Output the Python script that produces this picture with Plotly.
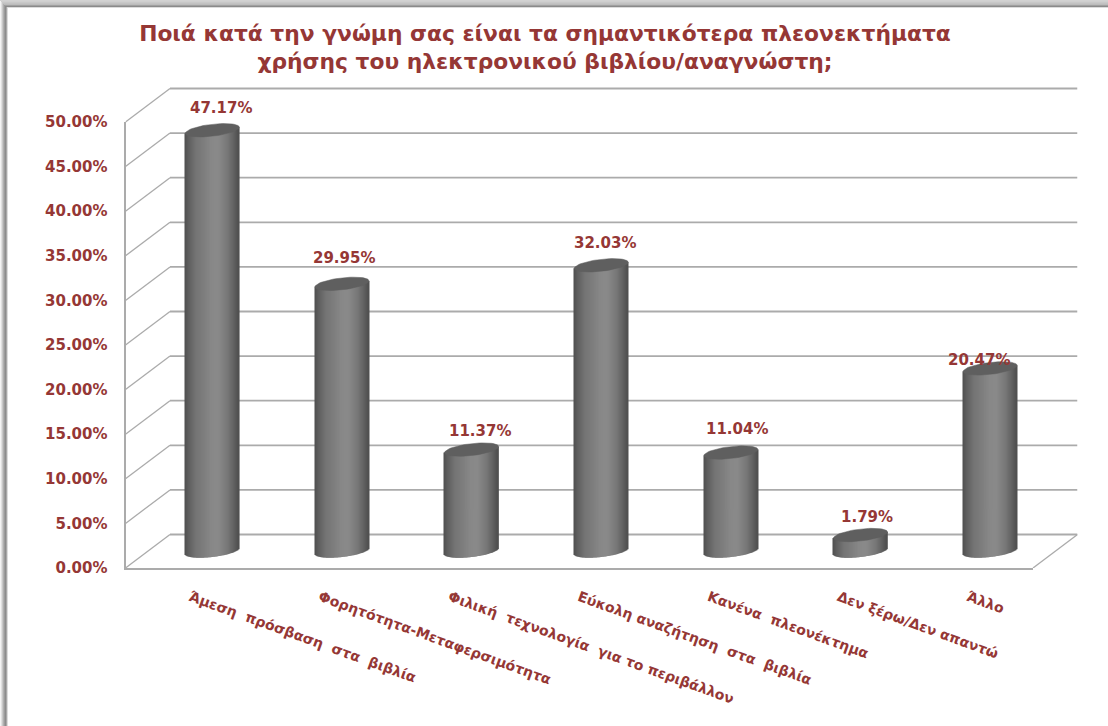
import numpy as np
import plotly.graph_objects as go

TITLE = "Ποιά κατά την γνώμη σας είναι τα σημαντικότερα πλεονεκτήματα<br>χρήσης του ηλεκτρονικού βιβλίου/αναγνώστη;"
categories = ["Άμεση  πρόσβαση  στα  βιβλία", "Φορητότητα-Μεταφερσιμότητα",
              "Φιλική  τεχνολογία  για το περιβάλλον", "Εύκολη αναζήτηση  στα  βιβλία",
              "Κανένα  πλεονέκτημα", "Δεν ξέρω/Δεν απαντώ", "Άλλο"]
values = [47.17, 29.95, 11.37, 32.03, 11.04, 1.79, 20.47]
y_ticks = [0, 5, 10, 15, 20, 25, 30, 35, 40, 45, 50]

label_dx = [9, 2, 8, 4, 6, 6, -11]
label_dy = [22, 26, 19, 22, 24, 18, 8]

W, H = 1108, 726
RED = "#953735"
GRID = "#ababab"
FONT = "DejaVu Sans"


def fx(p):
    return p / W


def fy(p):
    return 1 - p / H


CAT_PX = (1033 - 125.5) / 7
UNIT_PX = (568 - 122) / 50
n = len(values)
xs = list(range(n))
xrange_ = [-0.5, n - 0.5]

half_w = 27.0
cap_b = 6.0
cap_tilt = 3.0

# gradient strips across the cylinder
stops_t = [0, 0.06, 0.2, 0.5, 0.62, 0.8, 0.94, 1]
stops_c = [78, 92, 116, 136, 138, 120, 92, 78]

sx, sbase, sy, scol = [], [], [], []
for i, v in enumerate(values):
    for d in np.arange(-half_w + 0.5, half_w, 1.0):
        u = d / half_w
        low = (cap_tilt * u - cap_b * np.sqrt(max(0, 1 - u * u))) / UNIT_PX
        top = cap_tilt * u / UNIT_PX + v
        sx.append(i + d / CAT_PX)
        sbase.append(low)
        sy.append(top - low)
        g = int(np.interp((u + 1) / 2, stops_t, stops_c))
        scol.append(f"rgb({g},{g},{g})")

capx, capy = [], []
ts = np.linspace(0, 2 * np.pi, 60)
for i, v in enumerate(values):
    capx += list(i + half_w * np.cos(ts) / CAT_PX) + [None]
    capy += list(v + (cap_tilt * np.cos(ts) + cap_b * np.sin(ts)) / UNIT_PX) + [None]

# Back wall plane: gridlines plus the diagonals that join it to the front plane
DEPTH_X_PX, DEPTH_Y_PX = 44.5, 33.5
DX, DY = DEPTH_X_PX / CAT_PX, DEPTH_Y_PX / UNIT_PX
gx, gy, wx, wy = [], [], [], []
for t in y_ticks:
    gx += [-0.5, n - 0.5, None]
    gy += [t, t, None]
    wx += [-0.5 - DX, -0.5, None]
    wy += [t - DY, t, None]
wx += [n - 0.5 - DX, n - 0.5]
wy += [-DY, 0]

fig = go.Figure()
fig.add_trace(go.Scatter(x=xs, y=values, xaxis="x", yaxis="y", mode="markers",
                         marker=dict(opacity=0, size=1), hoverinfo="skip", name="axes"))
fig.add_trace(go.Scatter(x=gx, y=gy, xaxis="x2", yaxis="y2", mode="lines",
                         line=dict(color=GRID, width=1.8), hoverinfo="skip"))
fig.add_trace(go.Scatter(x=wx, y=wy, xaxis="x2", yaxis="y2", mode="lines",
                         line=dict(color=GRID, width=1.3), hoverinfo="skip"))
fig.add_trace(go.Bar(x=xs, y=values, xaxis="x3", yaxis="y3", width=28 / CAT_PX,
                     marker=dict(color="rgb(120,120,120)", line=dict(width=0)), name="values"))
fig.add_trace(go.Bar(x=sx, y=sy, base=sbase, xaxis="x3", yaxis="y3", width=1.5 / CAT_PX,
                     marker=dict(color=scol, line=dict(width=0)), hoverinfo="skip"))
fig.add_trace(go.Scatter(x=capx, y=capy, xaxis="x3", yaxis="y3", mode="lines", fill="toself",
                         fillcolor="#5f5f5f", line=dict(color="#5f5f5f", width=0.5), hoverinfo="skip"))

ann = [dict(x=i, y=v, xref="x3", yref="y3", text=f"{v:.2f}%", showarrow=False,
            xshift=label_dx[i], yshift=label_dy[i],
            font=dict(family=FONT, size=15, color=RED, weight=700))
       for i, v in enumerate(values)]

# window frame shadow
shapes = []
for k, c in enumerate(["#d2d2d2", "#cfcfcf", "#c8c8c8", "#c2c2c2", "#bcbcbc", "#a0a0a0", "#8a8a8a", "#dcdcdc"]):
    shapes.append(dict(type="rect", xref="paper", yref="paper", x0=0, x1=1, y0=fy(k + 1), y1=fy(k),
                       fillcolor=c, line_width=0, layer="below"))
for k, c in enumerate(["#f4f4f4", "#e0e0e0", "#c8c8c8", "#b0b0b0", "#9c9c9c", "#8c8c8c", "#a8a8a8", "#dcdcdc"]):
    shapes.append(dict(type="rect", xref="paper", yref="paper", x0=fx(k), x1=fx(k + 1), y0=0, y1=fy(k + 1 if k < 7 else 7),
                       fillcolor=c, line_width=0, layer="below"))

PAD = 2.0  # data units of head-room so lines at the wall's edges are not clipped
fig.update_layout(
    width=W, height=H, margin=dict(l=0, r=0, t=0, b=0, autoexpand=False),
    paper_bgcolor="white", plot_bgcolor="rgba(0,0,0,0)",
    showlegend=False, barmode="overlay", shapes=shapes, annotations=ann,
    title=dict(text=TITLE, x=545 / W, xanchor="center", y=fy(41), yanchor="middle",
               font=dict(family=FONT, size=21.8, color=RED, weight=700)),
    xaxis=dict(domain=[fx(125.5), fx(1033)], range=xrange_, tickmode="array", tickvals=xs, ticktext=categories,
               tickangle=20, ticks="outside", ticklen=14, tickcolor="rgba(0,0,0,0)",
               tickfont=dict(family=FONT, size=14, color=RED, weight=700),
               showgrid=False, showline=True, linecolor=GRID, linewidth=2, anchor="y", zeroline=False),
    yaxis=dict(domain=[fy(568), fy(122)], range=[0, 50], tickmode="array", tickvals=y_ticks,
               ticktext=[f"{t:.2f}%" for t in y_ticks], ticks="outside", ticklen=13, tickcolor="rgba(0,0,0,0)",
               tickfont=dict(family=FONT, size=15, color=RED, weight=700),
               showgrid=False, showline=True, linecolor=GRID, linewidth=2, anchor="x", zeroline=False),
    xaxis2=dict(domain=[fx(125.5), fx(1033 + DEPTH_X_PX)], range=[-0.5 - DX, n - 0.5], visible=False, anchor="y2"),
    yaxis2=dict(domain=[fy(568), fy(122 - DEPTH_Y_PX - PAD * UNIT_PX)], range=[-DY, 50 + PAD], visible=False, anchor="x2"),
    xaxis3=dict(domain=[fx(125.5 + 22), fx(1033 + 22)], range=xrange_, visible=False, anchor="y3"),
    yaxis3=dict(domain=[fy(551 + 5 * UNIT_PX), fy(551 - 446)], range=[-5, 50], visible=False, anchor="x3"),
)
fig.write_html("out.html", config=dict(displayModeBar=False),
               post_script="document.body.style.margin='0';document.body.style.overflow='hidden';")
